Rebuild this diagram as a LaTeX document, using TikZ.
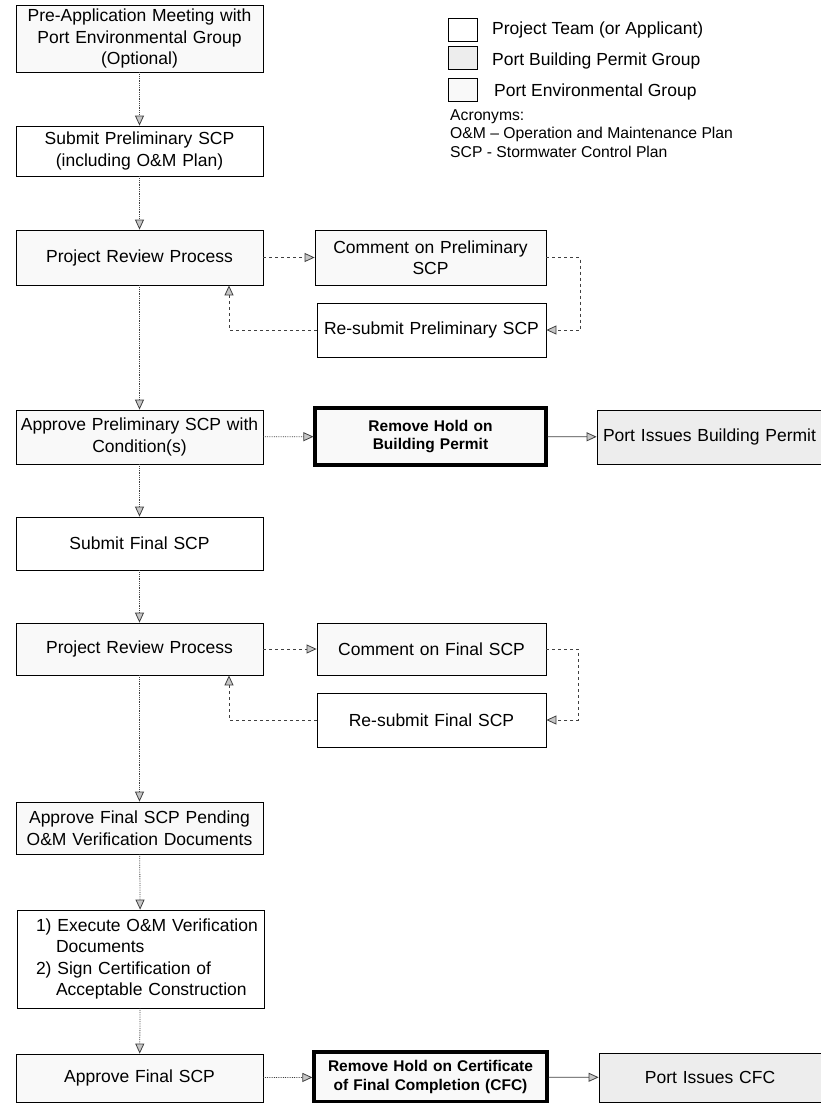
\documentclass[tikz,border=0pt]{standalone}
\usepackage{fontspec}
\setmainfont{Liberation Sans}
\usetikzlibrary{arrows.meta}

\tikzset{
  box/.style={draw, line width=0.8pt, align=center, inner sep=1pt, text width=245pt},
  team/.style={box, fill=white},
  env/.style={box, fill=gray!5},
  permit/.style={box, fill=gray!14},
  hold/.style={env, line width=3.2pt, font=\bfseries\fontsize{15.5}{18.5}\selectfont},
  tip/.style={-{Triangle[length=10pt, width=9pt, fill=gray!45]}},
  flow/.style={tip, densely dotted, line width=0.8pt, draw=black!75},
  back/.style={tip, dashed, line width=0.8pt, draw=black!75},
  give/.style={tip, line width=0.8pt, draw=black!75},
  key/.style={draw, line width=0.8pt, minimum width=29pt, minimum height=23pt, inner sep=0pt}
}

\begin{document}
\begin{tikzpicture}[x=1pt, y=-1pt, font=\fontsize{17.5}{21.5}\selectfont]
    \useasboundingbox (0,0) rectangle (821,1103);

    % Colonne gauche
    \node[env, minimum height=67pt] (pre) at (139.5,38.5) {Pre-Application Meeting with\\Port Environmental Group\\(Optional)};
    \node[team, minimum height=50pt] (subp) at (139.5,151) {Submit Preliminary SCP\\(including O\&M Plan)};
    \node[env, minimum height=55pt] (rev1) at (139.5,257.5) {Project Review Process};
    \node[env, minimum height=54pt] (app1) at (139.5,437) {Approve Preliminary SCP with\\Condition(s)};
    \node[team, minimum height=53pt] (subf) at (139.5,543.5) {Submit Final SCP};
    \node[env, minimum height=52pt] (rev2) at (139.5,649) {Project Review Process};
    \node[env, minimum height=52pt] (app2) at (139.5,828) {Approve Final SCP Pending\\O\&M Verification Documents};
    \node[team, minimum height=98pt, align=left] (exe) at (140.5,959)
        {\hspace*{18pt}1) Execute O\&M Verification\\\hspace*{38pt}Documents\\\hspace*{18pt}2) Sign Certification of\\\hspace*{38pt}Acceptable Construction};
    \node[env, minimum height=48pt] (app3) at (139.5,1078) {Approve Final SCP};

    % Boucles de revue
    \node[env, text width=229pt, minimum height=55pt] (com1) at (430.5,257.5) {Comment on Preliminary\\SCP};
    \node[team, text width=227pt, minimum height=54pt] (res1) at (431.5,330) {Re-submit Preliminary SCP};
    \node[env, text width=227pt, minimum height=52pt] (com2) at (431.5,649) {Comment on Final SCP};
    \node[team, text width=227pt, minimum height=54pt] (res2) at (431.5,720) {Re-submit Final SCP};

    % Permis
    \node[hold, text width=229pt, minimum height=57pt] (hold1) at (430.5,436.5) {Remove Hold on\\Building Permit};
    \node[permit, text width=223pt, minimum height=54pt] (iss1) at (709.5,437) {Port Issues Building Permit};
    \node[hold, text width=231pt, minimum height=50pt] (hold2) at (430.5,1077) {Remove Hold on Certificate\\of Final Completion (CFC)};
    \node[permit, text width=220pt, minimum height=49pt] (iss2) at (710,1077.5) {Port Issues CFC};

    % Fleches
    \draw[flow] (pre) -- (subp);
    \draw[flow] (subp) -- (rev1);
    \draw[flow] (rev1) -- (app1);
    \draw[flow] (app1) -- (subf);
    \draw[flow] (subf) -- (rev2);
    \draw[flow] (rev2) -- (app2);
    \draw[flow] (app2) -- (exe);
    \draw[flow] (exe) -- (app3);
    \draw[flow] (app1) -- (hold1);
    \draw[give] (hold1) -- (iss1);
    \draw[flow] (app3) -- (hold2);
    \draw[give] (hold2) -- (iss2);

    \draw[back] (rev1) -- (com1);
    \draw[back] (com1.east) -- ++(34,0) |- (res1.east);
    \draw[back] (res1.west) -| ([xshift=89.5pt]rev1.south);
    \draw[back] (rev2) -- (com2);
    \draw[back] (com2.east) -- ++(32,0) |- (res2.east);
    \draw[back] (res2.west) -| ([xshift=89.5pt]rev2.south);

    % Legende
    \node[key, fill=white] (k1) at (462.5,29.5) {};
    \node[key, fill=gray!14] (k2) at (462.5,58) {};
    \node[key, fill=gray!5] (k3) at (462.5,89.5) {};
    \node[anchor=west, inner sep=0pt] (t1) at (492,30) {Project Team (or Applicant)};
    \node[anchor=west, inner sep=0pt] (t2) at (492,61) {Port Building Permit Group};
    \node[anchor=west, inner sep=0pt] (t3) at (494,92) {Port Environmental Group};
    \node[anchor=north west, inner sep=0pt, align=left, font=\fontsize{15.7}{18.5}\selectfont] (acr) at (450,109)
        {Acronyms:\\O\&M – Operation and Maintenance Plan\\SCP - Stormwater Control Plan};
\end{tikzpicture}
\end{document}
